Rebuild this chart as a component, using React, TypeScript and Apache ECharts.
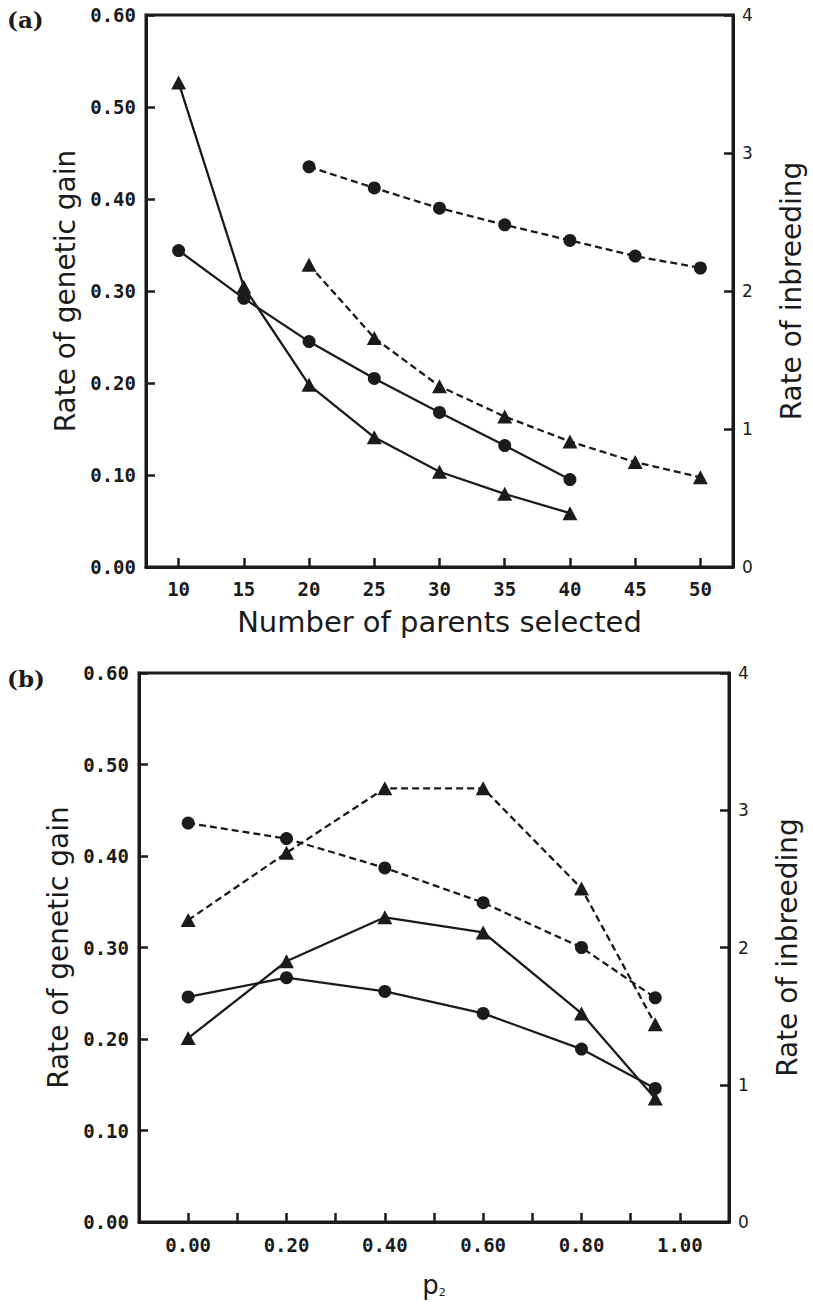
import React, { useEffect, useRef } from "react";
import * as echarts from "echarts";

// Panel (a): number of parents selected
const parentsA = [10, 15, 20, 25, 30, 35, 40];
const parentsB = [20, 25, 30, 35, 40, 45, 50];
const gainSolidA = [0.344, 0.292, 0.245, 0.205, 0.168, 0.132, 0.095];
const inbrSolidA = [3.51, 2.03, 1.32, 0.94, 0.69, 0.53, 0.39];
const gainDashA = [0.435, 0.412, 0.39, 0.372, 0.355, 0.338, 0.325];
const inbrDashA = [2.19, 1.66, 1.31, 1.09, 0.91, 0.76, 0.65];
const xTicksA = [10, 15, 20, 25, 30, 35, 40, 45, 50];

// Panel (b): p2
const p2 = [0.0, 0.2, 0.4, 0.6, 0.8, 0.95];
const gainSolidB = [0.246, 0.267, 0.252, 0.228, 0.189, 0.146];
const inbrSolidB = [1.34, 1.9, 2.22, 2.11, 1.52, 0.9];
const gainDashB = [0.436, 0.419, 0.387, 0.349, 0.3, 0.245];
const inbrDashB = [2.2, 2.69, 3.16, 3.16, 2.43, 1.44];
const xTicksB = [0, 0.1, 0.2, 0.3, 0.4, 0.5, 0.6, 0.7, 0.8, 0.9, 1.0];
const xLabelsB = [0, 0.2, 0.4, 0.6, 0.8, 1.0];

const INK = "#1b1b1b";
const monoFont = "DejaVu Sans Mono";
const sansFont = "DejaVu Sans";

const zip = (xs: number[], ys: number[]) => xs.map((x, i) => [x, ys[i]]);

export default function App() {
  const ref = useRef<HTMLDivElement>(null);
  useEffect(() => {
    document.body.style.margin = "0";
    const chart = echarts.init(ref.current!, null, { renderer: "svg" });

    const axisLine = { show: true, onZero: false, lineStyle: { color: INK, width: 3 } };
    const tick = { show: true, inside: true, length: 9, lineStyle: { color: INK, width: 2.5 } };
    const leftLabel = {
      fontFamily: monoFont,
      fontWeight: "bold",
      fontSize: 19,
      color: INK,
      margin: 10,
      formatter: (v: number) => v.toFixed(2),
    };
    const rightLabel = {
      fontFamily: sansFont,
      fontSize: 17,
      color: INK,
      margin: 9,
    };
    const nameStyle = { fontFamily: sansFont, fontSize: 28, color: INK };

    const mkLeft = (gi: number) => ({
      type: "value",
      gridIndex: gi,
      min: 0,
      max: 0.6,
      interval: 0.1,
      position: "left",
      axisLine,
      axisTick: tick,
      splitLine: { show: false },
      axisLabel: leftLabel,
      name: "Rate of genetic gain",
      nameLocation: "middle",
      nameRotate: 90,
      nameGap: 64,
      nameTextStyle: nameStyle,
    });
    const mkRight = (gi: number) => ({
      type: "value",
      gridIndex: gi,
      min: 0,
      max: 4,
      interval: 1,
      position: "right",
      axisLine,
      axisTick: tick,
      splitLine: { show: false },
      axisLabel: rightLabel,
      name: "Rate of inbreeding",
      nameLocation: "middle",
      nameRotate: 90,
      nameGap: 44,
      nameTextStyle: nameStyle,
    });

    const line = (
      name: string,
      x: number,
      y: number,
      data: number[][],
      dashed: boolean,
      symbol: string
    ) => ({
      name,
      type: "line",
      xAxisIndex: x,
      yAxisIndex: y,
      data,
      symbol,
      symbolSize: symbol === "triangle" ? [15, 14] : 13,
      showSymbol: true,
      itemStyle: { color: INK },
      lineStyle: { color: INK, width: 2.3, type: dashed ? [7, 4] : "solid" },
      z: 3,
    });

    chart.setOption({
      animation: false,
      backgroundColor: "#fff",
      grid: [
        { left: 146, top: 15, width: 587, height: 552, show: true, borderColor: INK, borderWidth: 3 },
        { left: 139, top: 673, width: 590, height: 549, show: true, borderColor: INK, borderWidth: 3 },
      ],
      xAxis: [
        {
          type: "value",
          gridIndex: 0,
          min: 7.5,
          max: 52.5,
          axisLine,
          axisTick: { ...tick, customValues: xTicksA },
          splitLine: { show: false },
          axisLabel: {
            fontFamily: monoFont,
            fontWeight: "bold",
            fontSize: 19,
            color: INK,
            margin: 12,
            customValues: xTicksA,
          },
          name: "Number of parents selected",
          nameLocation: "middle",
          nameGap: 40,
          nameTextStyle: { ...nameStyle, fontSize: 29, verticalAlign: "top" },
        },
        {
          type: "value",
          gridIndex: 1,
          min: -0.1,
          max: 1.1,
          axisLine,
          axisTick: { ...tick, customValues: xTicksB },
          splitLine: { show: false },
          axisLabel: {
            fontFamily: monoFont,
            fontWeight: "bold",
            fontSize: 19,
            color: INK,
            margin: 13,
            customValues: xLabelsB,
            formatter: (v: number) => v.toFixed(2),
          },
          name: "{p|p}{s|2}",
          nameLocation: "middle",
          nameGap: 50,
          nameTextStyle: {
            verticalAlign: "top",
            rich: {
              p: { fontFamily: sansFont, fontSize: 26, color: INK },
              s: { fontFamily: sansFont, fontSize: 11, color: INK, padding: [14, 0, 0, 0] },
            },
          },
        },
      ],
      yAxis: [mkLeft(0), mkRight(0), mkLeft(1), mkRight(1)],
      series: [
        line("Gain solid (a)", 0, 0, zip(parentsA, gainSolidA), false, "circle"),
        line("Inbreeding solid (a)", 0, 1, zip(parentsA, inbrSolidA), false, "triangle"),
        line("Gain dashed (a)", 0, 0, zip(parentsB, gainDashA), true, "circle"),
        line("Inbreeding dashed (a)", 0, 1, zip(parentsB, inbrDashA), true, "triangle"),
        line("Gain solid (b)", 1, 2, zip(p2, gainSolidB), false, "circle"),
        line("Inbreeding solid (b)", 1, 3, zip(p2, inbrSolidB), false, "triangle"),
        line("Gain dashed (b)", 1, 2, zip(p2, gainDashB), true, "circle"),
        line("Inbreeding dashed (b)", 1, 3, zip(p2, inbrDashB), true, "triangle"),
      ],
      graphic: [
        {
          type: "text",
          left: 7,
          top: 8,
          style: { text: "(a)", font: "bold 23px 'DejaVu Serif'", fill: INK },
        },
        {
          type: "text",
          left: 7,
          top: 667,
          style: { text: "(b)", font: "bold 23px 'DejaVu Serif'", fill: INK },
        },
      ],
    });
    return () => chart.dispose();
  }, []);
  return <div ref={ref} style={{ width: 813, height: 1308 }} />;
}
